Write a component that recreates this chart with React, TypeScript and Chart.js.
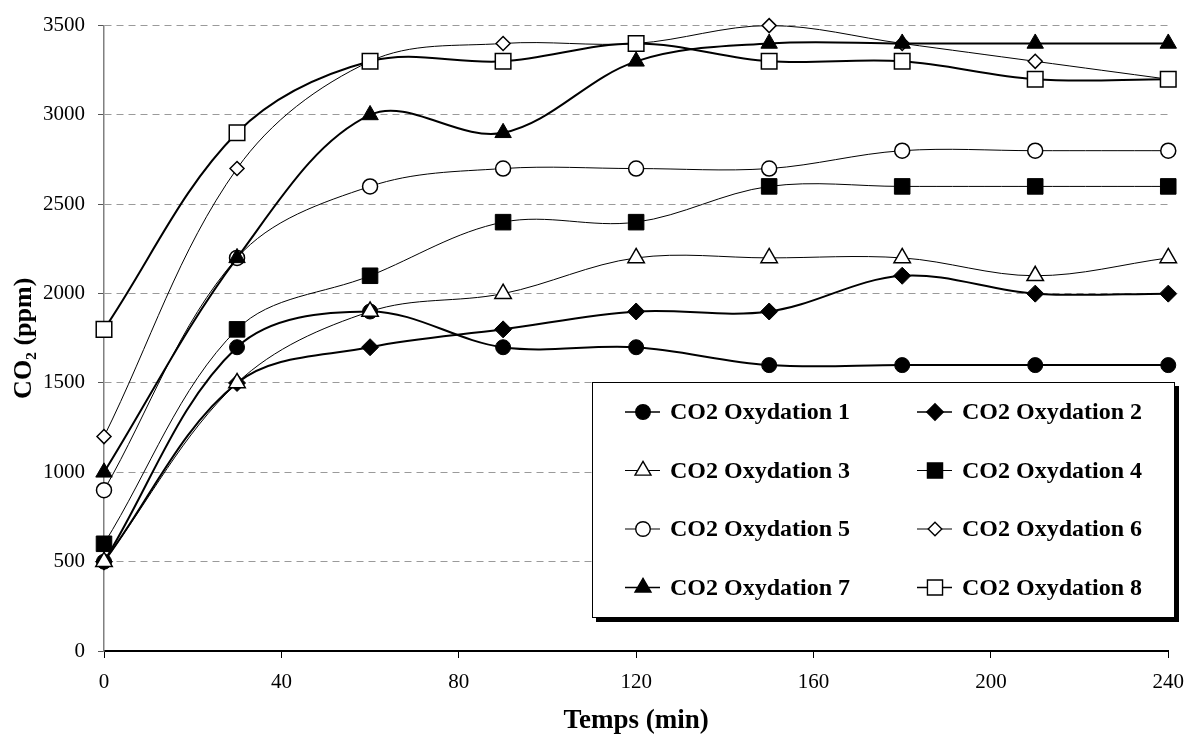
import React, { useEffect, useRef } from 'react';
import { Chart, registerables } from 'chart.js';

Chart.register(...registerables);

// ---- data ----
const TIMES = [0, 30, 60, 90, 120, 150, 180, 210, 240];
const SERIES_LABELS = [
  'CO2 Oxydation 1',
  'CO2 Oxydation 2',
  'CO2 Oxydation 3',
  'CO2 Oxydation 4',
  'CO2 Oxydation 5',
  'CO2 Oxydation 6',
  'CO2 Oxydation 7',
  'CO2 Oxydation 8',
];
const OX1 = [500, 1700, 1900, 1700, 1700, 1600, 1600, 1600, 1600];
const OX2 = [500, 1500, 1700, 1800, 1900, 1900, 2100, 2000, 2000];
const OX3 = [500, 1500, 1900, 2000, 2200, 2200, 2200, 2100, 2200];
const OX4 = [600, 1800, 2100, 2400, 2400, 2600, 2600, 2600, 2600];
const OX5 = [900, 2200, 2600, 2700, 2700, 2700, 2800, 2800, 2800];
const OX6 = [1200, 2700, 3300, 3400, 3400, 3500, 3400, 3300, 3200];
const OX7 = [1000, 2200, 3000, 2900, 3300, 3400, 3400, 3400, 3400];
const OX8 = [1800, 2900, 3300, 3300, 3400, 3300, 3300, 3200, 3200];
const SERIES_VALUES = [OX1, OX2, OX3, OX4, OX5, OX6, OX7, OX8];

const X_MIN = 0;
const X_MAX = 240;
const X_STEP = 40;
const Y_MIN = 0;
const Y_MAX = 3500;
const Y_STEP = 500;
const X_TITLE = 'Temps (min)';
const Y_TITLE = 'CO\u2082 (ppm)';

// ---- styles ----
const POINT_STYLES = ['circle', 'rectRot', 'triangle', 'rect', 'circle', 'rectRot', 'triangle', 'rect'];
const FILLED = [true, true, false, true, false, false, true, false];
const THICK = [true, true, false, false, false, false, true, true];
const RADII = [7.5, 8.5, 9.5, 11, 7.5, 7, 9.5, 11];

const FONT = "'Liberation Serif', 'Times New Roman', serif";

function drawMarker(ctx: CanvasRenderingContext2D, style: string, x: number, y: number, r: number) {
  ctx.beginPath();
  if (style === 'circle') {
    ctx.arc(x, y, r, 0, Math.PI * 2);
  } else if (style === 'rect') {
    const s = r * Math.SQRT1_2;
    ctx.rect(x - s, y - s, 2 * s, 2 * s);
  } else if (style === 'rectRot') {
    ctx.moveTo(x, y - r);
    ctx.lineTo(x + r, y);
    ctx.lineTo(x, y + r);
    ctx.lineTo(x - r, y);
    ctx.closePath();
  } else if (style === 'triangle') {
    let a = 0;
    ctx.moveTo(x + Math.sin(a) * r, y - Math.cos(a) * r);
    a += (2 * Math.PI) / 3;
    ctx.lineTo(x + Math.sin(a) * r, y - Math.cos(a) * r);
    a += (2 * Math.PI) / 3;
    ctx.lineTo(x + Math.sin(a) * r, y - Math.cos(a) * r);
    ctx.closePath();
  }
  ctx.fill();
  ctx.stroke();
}

const boxLegendPlugin = {
  id: 'boxLegend',
  afterDraw(chart: any) {
    const ctx: CanvasRenderingContext2D = chart.ctx;
    const left = 592, top = 382, right = 1175, bottom = 618;
    ctx.save();
    // shadow
    ctx.fillStyle = '#000';
    ctx.fillRect(left + 4, top + 4, right - left, bottom - top);
    ctx.fillStyle = '#fff';
    ctx.fillRect(left, top, right - left, bottom - top);
    ctx.strokeStyle = '#000';
    ctx.lineWidth = 1;
    ctx.strokeRect(left + 0.5, top + 0.5, right - left - 1, bottom - top - 1);

    const colX = [625, 917];
    const rowY0 = 412;
    const rowStep = 58.5;
    ctx.font = `bold 24px ${FONT}`;
    ctx.textBaseline = 'middle';
    ctx.textAlign = 'left';
    chart.data.datasets.forEach((ds: any, i: number) => {
      const col = i % 2;
      const row = Math.floor(i / 2);
      const x = colX[col];
      const y = rowY0 + row * rowStep;
      ctx.strokeStyle = '#000';
      ctx.lineWidth = THICK[i] ? 1.6 : 1;
      ctx.beginPath();
      ctx.moveTo(x, y);
      ctx.lineTo(x + 35, y);
      ctx.stroke();
      ctx.lineWidth = 1.4;
      ctx.fillStyle = FILLED[i] ? '#000' : '#fff';
      drawMarker(ctx, POINT_STYLES[i], x + 18, y, RADII[i] * 0.97);
      ctx.fillStyle = '#000';
      ctx.fillText(ds.label, x + 45, y + 1);
    });
    ctx.restore();
  },
};

export default function App() {
  const canvasRef = useRef<HTMLCanvasElement | null>(null);

  useEffect(() => {
    document.body.style.margin = '0';
    const canvas = canvasRef.current;
    if (!canvas) return;

    const datasets = SERIES_VALUES.map((vals, i) => ({
      label: SERIES_LABELS[i],
      data: TIMES.map((t, j) => ({ x: t, y: vals[j] })),
      borderColor: '#000',
      backgroundColor: FILLED[i] ? '#000' : '#fff',
      borderWidth: THICK[i] ? 2 : 1,
      pointStyle: POINT_STYLES[i],
      pointRadius: RADII[i],
      pointBorderWidth: FILLED[i] ? 1 : 1.5,
      pointBorderColor: '#000',
      pointBackgroundColor: FILLED[i] ? '#000' : '#fff',
      tension: 0.35,
      fill: false,
      clip: false as any,
      order: SERIES_VALUES.length - i,
    }));

    const chart = new Chart(canvas, {
      type: 'line',
      data: { datasets },
      options: {
        animation: false,
        responsive: false,
        devicePixelRatio: 1,
        layout: { padding: { top: 25, right: 21, left: 0, bottom: 0 } },
        plugins: {
          legend: { display: false },
          tooltip: { enabled: false },
        },
        scales: {
          x: {
            type: 'linear',
            min: X_MIN,
            max: X_MAX,
            afterFit: (scale: any) => {
              scale.height = 85;
            },
            ticks: {
              stepSize: X_STEP,
              color: '#000',
              font: { family: FONT, size: 21 },
              padding: 12,
              maxRotation: 0,
              callback: (v: any) => String(v),
            },
            grid: {
              drawOnChartArea: false,
              drawTicks: true,
              tickLength: 7,
              tickColor: '#000',
              tickWidth: 1,
            },
            border: { display: true, color: '#000', width: 2 },
            title: {
              display: true,
              text: X_TITLE,
              color: '#000',
              font: { family: FONT, size: 27, weight: 'bold', lineHeight: 1 },
              padding: { top: 0, bottom: 1 },
            },
          },
          y: {
            type: 'linear',
            min: Y_MIN,
            max: Y_MAX,
            afterFit: (scale: any) => {
              scale.width = 104;
            },
            ticks: {
              stepSize: Y_STEP,
              color: '#000',
              font: { family: FONT, size: 21 },
              padding: 13,
              callback: (v: any) => String(v),
            },
            grid: {
              drawOnChartArea: true,
              color: (c: any) => (c.tick && c.tick.value === 0 ? 'rgba(0,0,0,0)' : '#9a9a9a'),
              lineWidth: 1,
              tickLength: 6,
              tickColor: '#555',
              tickWidth: 1,
              tickBorderDash: [],
            },
            border: { display: true, color: '#808080', width: 1.5, dash: [7, 5] },
            title: {
              display: true,
              text: Y_TITLE,
              color: '#000',
              font: { family: FONT, size: 26, weight: 'bold', lineHeight: 1.2 },
              padding: { top: 9, bottom: 0 },
            },
          },
        },
      },
      plugins: [boxLegendPlugin],
    });

    return () => {
      chart.destroy();
    };
  }, []);

  return (
    <div style={{ position: 'absolute', left: 0, top: 0, width: 1196, height: 736, background: '#fff' }}>
      <canvas ref={canvasRef} width={1196} height={736} style={{ display: 'block' }} />
    </div>
  );
}
